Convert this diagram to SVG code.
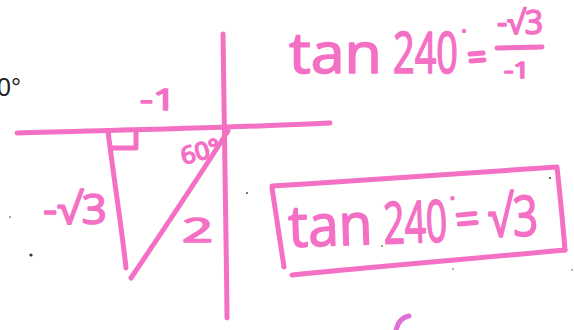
<svg xmlns="http://www.w3.org/2000/svg" width="574" height="330" viewBox="0 0 574 330">
<style>
.ln{fill:none;stroke:#f470c4;stroke-width:5;stroke-linecap:round;stroke-linejoin:round}
.hw{font-family:"Open Sans","Liberation Sans",sans-serif;fill:#f470c4;stroke:#f470c4;stroke-width:1.6;stroke-linejoin:round}
.dot{fill:#333}
</style>
<rect width="574" height="330" fill="#ffffff"/>
<text x="-3" y="96" font-family="Liberation Sans, sans-serif" font-size="25" fill="#222">0°</text>
<g id="axes">
<path class="ln" d="M223,34 C225,120 226,220 227,318"/>
<path class="ln" d="M17,133 C120,130 230,128 330,123"/>
</g>
<g id="triangle">
<path class="ln" d="M108,131 C114,180 122,230 126,268"/>
<path class="ln" d="M228,131 C200,175 160,235 131,278"/>
<path class="ln" d="M111,148 L136,148 L136,132" stroke-width="4"/>
</g>
<g id="labels">
<text class="hw" x="140" y="110" font-size="30" textLength="36" lengthAdjust="spacingAndGlyphs">-1</text>
<text class="hw" x="180" y="160" font-size="24" textLength="40" lengthAdjust="spacingAndGlyphs" transform="rotate(-15 200 150)">60°</text>
<text class="hw" x="43" y="224" font-size="42" textLength="64" lengthAdjust="spacingAndGlyphs">-√3</text>
<text class="hw" x="182" y="242" font-size="32" textLength="31" lengthAdjust="spacingAndGlyphs">2</text>
</g>
<g id="eq1">
<text class="hw" x="289" y="73" font-size="56" textLength="93" lengthAdjust="spacingAndGlyphs">tan</text>
<text class="hw" x="393" y="73" font-size="56" textLength="65" lengthAdjust="spacingAndGlyphs">240</text>
<circle cx="464" cy="31" r="2.2" fill="#f470c4"/>
<path class="ln" d="M470,54 L483,53 M471,61 L484,60" stroke-width="4"/>
<text class="hw" x="497" y="34" font-size="32" textLength="46" lengthAdjust="spacingAndGlyphs">-√3</text>
<path class="ln" d="M497,48 L542,47" stroke-width="4"/>
<text class="hw" x="504" y="78" font-size="22" textLength="26" lengthAdjust="spacingAndGlyphs">-1</text>
</g>
<g id="eq2">
<path class="ln" d="M272,186 C370,180 470,172 557,167 C560,195 563,225 565,250"/>
<path class="ln" d="M272,188 C276,215 280,242 284,267"/>
<path class="ln" d="M292,275 C380,266 480,258 565,250"/>
<g transform="rotate(-2 290 246)">
<text class="hw" x="289" y="247" font-size="58" textLength="84" lengthAdjust="spacingAndGlyphs">tan</text>
<text class="hw" x="384" y="247" font-size="58" textLength="64" lengthAdjust="spacingAndGlyphs">240</text>
<circle cx="454" cy="204" r="2.2" fill="#f470c4"/>
<path class="ln" d="M459,221 L476,220 M460,230 L477,229" stroke-width="4.5"/>
<text class="hw" x="489" y="244" font-size="56" textLength="50" lengthAdjust="spacingAndGlyphs">√3</text>
</g>
</g>
<path d="M396,330 C398,322 403,317 409,316" fill="none" stroke="#e070d8" stroke-width="5" stroke-linecap="round"/>
<circle class="dot" cx="31" cy="255" r="1.6"/>
<circle class="dot" cx="10" cy="217" r="0.8"/>
<circle class="dot" cx="247" cy="193" r="0.9"/>
<circle class="dot" cx="550" cy="178" r="1"/>
<circle class="dot" cx="382" cy="246" r="0.8"/>
<circle class="dot" cx="453" cy="269" r="0.7"/>
<circle class="dot" cx="572" cy="270" r="0.7"/>
</svg>
